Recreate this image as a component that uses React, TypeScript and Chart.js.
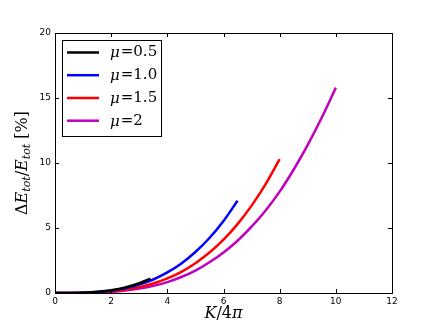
import React, { useEffect, useRef } from "react";
import { Chart, registerables } from "chart.js";

Chart.register(...registerables);

const muLabels = ["0.5", "1.0", "1.5", "2"];
const colors = ["#000000", "#0000ff", "#ff0000", "#bf00bf"];

const xBlack = [0, 0.5, 1, 1.5, 2, 2.5, 3, 3.4];
const yBlack = [0, 0.003, 0.025, 0.087, 0.21, 0.42, 0.75, 1.1];

const xBlue = [0, 0.5, 1, 1.5, 2, 2.5, 3, 3.5, 4, 4.5, 5, 5.5, 6, 6.5];
const yBlue = [0, 0.002, 0.021, 0.075, 0.18, 0.37, 0.65, 1.04, 1.58, 2.27, 3.15, 4.23, 5.54, 7.1];

const xRed = [0, 0.5, 1, 1.5, 2, 2.5, 3, 3.5, 4, 4.5, 5, 5.5, 6, 6.5, 7, 7.5, 8];
const yRed = [0, 0.001, 0.013, 0.049, 0.12, 0.25, 0.45, 0.73, 1.12, 1.63, 2.29, 3.11, 4.1, 5.3, 6.72, 8.38, 10.3];

const xMag = [0, 0.5, 1, 1.5, 2, 2.5, 3, 3.5, 4, 4.5, 5, 5.5, 6, 6.5, 7, 7.5, 8, 8.5, 9, 9.5, 10];
const yMag = [0, 0.001, 0.01, 0.036, 0.09, 0.19, 0.34, 0.55, 0.84, 1.23, 1.72, 2.36, 3.12, 4.02, 5.1, 6.35, 7.8, 9.5, 11.4, 13.5, 15.8];

const xTicks = [0, 2, 4, 6, 8, 10, 12];
const yTicks = [0, 5, 10, 15, 20];

const seriesX = [xBlack, xBlue, xRed, xMag];
const seriesY = [yBlack, yBlue, yRed, yMag];

const SERIF = "'DejaVu Serif'";

const decorPlugin = {
  id: "decor",
  afterDraw(chart: any) {
    const ctx = chart.ctx;
    const a = chart.chartArea;
    const xs = chart.scales.x;
    const ys = chart.scales.y;
    ctx.save();
    // frame
    ctx.strokeStyle = "#000";
    ctx.lineWidth = 1;
    ctx.strokeRect(Math.round(a.left) + 0.5, Math.round(a.top) + 0.5, Math.round(a.right - a.left), Math.round(a.bottom - a.top));
    // inward ticks
    const tl = 4;
    ctx.beginPath();
    xTicks.forEach((v) => {
      const px = Math.round(xs.getPixelForValue(v)) + 0.5;
      ctx.moveTo(px, a.bottom);
      ctx.lineTo(px, a.bottom - tl);
      ctx.moveTo(px, a.top);
      ctx.lineTo(px, a.top + tl);
    });
    yTicks.forEach((v) => {
      const py = Math.round(ys.getPixelForValue(v)) + 0.5;
      ctx.moveTo(a.left, py);
      ctx.lineTo(a.left + tl, py);
      ctx.moveTo(a.right, py);
      ctx.lineTo(a.right - tl, py);
    });
    ctx.stroke();

    // x title: K/4π
    ctx.fillStyle = "#000";
    ctx.textBaseline = "alphabetic";
    const cx = (a.left + a.right) / 2;
    const xParts: [string, string][] = [
      ["K", "italic 16px " + SERIF],
      ["/", "16px " + SERIF],
      ["4", "16px " + SERIF],
      ["π", "italic 16px " + SERIF],
    ];
    let tw = 0;
    const xw = xParts.map(([t, f]) => {
      ctx.font = f;
      const w = ctx.measureText(t).width;
      tw += w;
      return w;
    });
    let x0 = cx - tw / 2;
    const by = 318;
    ctx.textAlign = "left";
    xParts.forEach(([t, f], i) => {
      ctx.font = f;
      ctx.fillText(t, x0, by);
      x0 += xw[i];
    });

    // y title: ΔE_tot/E_tot [%]
    const pieces: [string, string, number][] = [
      ["Δ", "16px " + SERIF, 0],
      ["E", "italic 16px " + SERIF, 0],
      ["tot", "italic 11px " + SERIF, 3],
      ["/", "16px " + SERIF, 0],
      ["E", "italic 16px " + SERIF, 0],
      ["tot", "italic 11px " + SERIF, 3],
      [" [%]", "16px " + SERIF, 0],
    ];
    let total = 0;
    const widths = pieces.map(([t, f]) => {
      ctx.font = f;
      const w = ctx.measureText(t).width;
      total += w;
      return w;
    });
    ctx.translate(27, (a.top + a.bottom) / 2);
    ctx.rotate(-Math.PI / 2);
    let px = -total / 2;
    pieces.forEach(([t, f, dy], i) => {
      ctx.font = f;
      ctx.fillText(t, px, dy);
      px += widths[i];
    });
    ctx.setTransform(1, 0, 0, 1, 0, 0);

    // legend
    const lx = 62.5, ly = 40.5, lw = 99, lh = 96;
    ctx.fillStyle = "#fff";
    ctx.fillRect(lx, ly, lw, lh);
    ctx.strokeStyle = "#000";
    ctx.lineWidth = 1;
    ctx.strokeRect(lx, ly, lw, lh);
    const rowY = [52.5, 75.2, 98, 120.7];
    muLabels.forEach((lab, i) => {
      const y = rowY[i];
      ctx.strokeStyle = colors[i];
      ctx.lineWidth = 2.5;
      ctx.beginPath();
      ctx.moveTo(67, y);
      ctx.lineTo(99, y);
      ctx.stroke();
      ctx.fillStyle = "#000";
      ctx.textBaseline = "middle";
      ctx.font = "italic 15px " + SERIF;
      ctx.fillText("μ", 110, y + 1);
      const wm = ctx.measureText("μ").width;
      ctx.font = "15px " + SERIF;
      ctx.fillText("=" + lab, 111 + wm, y);
    });
    ctx.restore();
  },
};

export default function App() {
  const ref = useRef<HTMLCanvasElement | null>(null);
  useEffect(() => {
    if (!ref.current) return;
    const datasets = seriesX.map((xsArr, i) => ({
      label: "μ=" + muLabels[i],
      data: xsArr.map((x, j) => ({ x, y: seriesY[i][j] })),
      borderColor: colors[i],
      backgroundColor: colors[i],
      borderWidth: 2.5,
      pointRadius: 0,
      showLine: true,
      fill: false,
      cubicInterpolationMode: "monotone" as const,
    }));
    const chart = new Chart(ref.current, {
      type: "scatter",
      data: { datasets },
      options: {
        animation: false,
        responsive: false,
        maintainAspectRatio: false,
        layout: { padding: { top: 33, right: 44, left: 0, bottom: 0 } },
        plugins: { legend: { display: false }, tooltip: { enabled: false } },
        scales: {
          x: {
            type: "linear",
            min: 0,
            max: 12,
            afterBuildTicks: (s: any) => {
              s.ticks = xTicks.map((v) => ({ value: v }));
            },
            afterFit: (s: any) => {
              s.height = 34;
            },
            grid: { display: false, drawTicks: false },
            border: { display: false },
            ticks: {
              color: "#000",
              padding: 3,
              maxRotation: 0,
              font: { family: "'DejaVu Sans'", size: 9 },
            },
          },
          y: {
            type: "linear",
            min: 0,
            max: 20,
            afterBuildTicks: (s: any) => {
              s.ticks = yTicks.map((v) => ({ value: v }));
            },
            afterFit: (s: any) => {
              s.width = 55;
            },
            grid: { display: false, drawTicks: false },
            border: { display: false },
            ticks: {
              color: "#000",
              padding: 4,
              font: { family: "'DejaVu Sans'", size: 9 },
            },
          },
        },
      },
      plugins: [decorPlugin],
    });
    return () => chart.destroy();
  }, []);
  return (
    <div style={{ position: "fixed", left: 0, top: 0, width: 436, height: 327, background: "#fff" }}>
      <canvas ref={ref} width={436} height={327} style={{ width: 436, height: 327 }} />
    </div>
  );
}
